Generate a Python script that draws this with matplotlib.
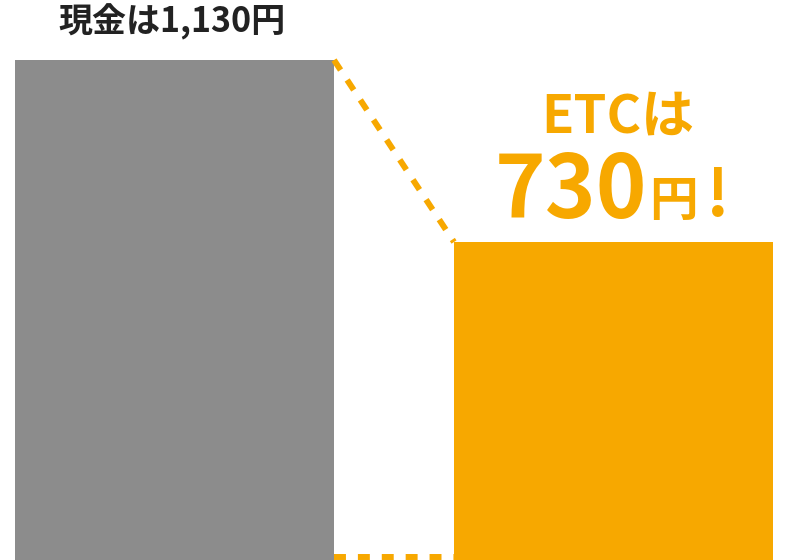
import numpy as np
import matplotlib
matplotlib.use('Agg')
import matplotlib.pyplot as plt

plt.rcParams['font.family'] = ['Noto Sans CJK JP', 'DejaVu Sans']

# data
categories = ['現金', 'ETC']
prices = [1130, 730]
cash_label = '現金は1,130円'
etc_head = 'ETCは'
etc_value = '730'
colors = ['#8c8c8c', '#f7a800']

fig = plt.figure(figsize=(8, 5.6), dpi=100)
ax = fig.add_axes([0, 0, 1, 1])

x = np.arange(len(categories))
w = 0.7267
ax.bar(x, prices, width=w, color=colors, linewidth=0)

# dashed connector from cash bar top to ETC bar top
ax.plot([x[0] + w / 2, x[1] - w / 2], [prices[0], prices[1]],
        color=colors[1], lw=4.3, dashes=(2, 2), dash_capstyle='butt')
# dashed line along the bottom between bars
ax.plot([x[0] + w / 2, x[1] - w / 2], [37.6, 37.6],
        color=colors[1], lw=4.3, dashes=(2, 2), dash_capstyle='butt')

# labels (offsets in points, 0.72 pt per px)
ax.annotate(cash_label, (x[0], prices[0]), xytext=(-1.5, 20), textcoords='offset points',
            ha='center', va='baseline', fontsize=24.5, fontweight='bold', color='#222222')
ax.annotate(etc_head, (x[1], prices[1]), xytext=(3, 78.5), textcoords='offset points',
            ha='center', va='baseline', fontsize=38, fontweight='bold', color=colors[1])
ax.annotate(etc_value, (x[1], prices[1]), xytext=(24, 17.3), textcoords='offset points',
            ha='right', va='baseline', fontsize=62, fontweight='bold', color=colors[1])
ax.annotate('円', (x[1], prices[1]), xytext=(25.5, 19), textcoords='offset points',
            ha='left', va='baseline', fontsize=35, fontweight='bold', color=colors[1])
ax.annotate('!', (x[1], prices[1]), xytext=(75, 19), textcoords='offset points',
            ha='center', va='baseline', fontsize=46, fontweight='bold', color=colors[1])

ax.set_xlim(-0.3975, 1.4248)
ax.set_ylim(31, 1262)
ax.axis('off')

fig.savefig('out.png', dpi=100, facecolor='white')
